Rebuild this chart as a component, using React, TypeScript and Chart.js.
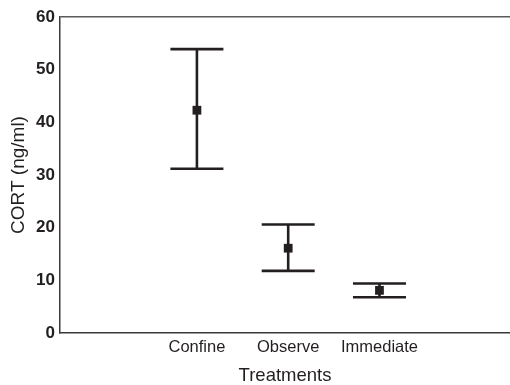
import React, { useEffect, useRef } from "react";
import { Chart, registerables } from "chart.js";

Chart.register(...registerables);

const categories = ["Confine", "Observe", "Immediate"];
const categoryPositions = [1.5, 2.5, 3.5];
const means = [42.3, 16.1, 8.1];
const upper = [53.9, 20.6, 9.4];
const lower = [31.2, 11.8, 6.8];
const yTicks = [0, 10, 20, 30, 40, 50, 60];

const INK = "#231f20";
const FONT = "'Liberation Sans', Arial, Helvetica, sans-serif";

const errorBarPlugin = {
  id: "errorBars",
  beforeDatasetsDraw(chart: any) {
    const { ctx, scales } = chart;
    const xs = scales.x;
    const ys = scales.y;
    const capHalf = 26.5;
    ctx.save();
    ctx.strokeStyle = INK;
    ctx.lineWidth = 2.6;
    ctx.lineCap = "butt";
    categoryPositions.forEach((pos, i) => {
      const x = xs.getPixelForValue(pos);
      const yHi = ys.getPixelForValue(upper[i]);
      const yLo = ys.getPixelForValue(lower[i]);
      ctx.beginPath();
      ctx.moveTo(x, yHi);
      ctx.lineTo(x, yLo);
      ctx.moveTo(x - capHalf, yHi);
      ctx.lineTo(x + capHalf, yHi);
      ctx.moveTo(x - capHalf, yLo);
      ctx.lineTo(x + capHalf, yLo);
      ctx.stroke();
    });
    ctx.restore();
  },
};

export default function App() {
  const ref = useRef<HTMLCanvasElement | null>(null);

  useEffect(() => {
    if (!ref.current) return;
    const chart = new Chart(ref.current, {
      type: "scatter",
      data: {
        datasets: [
          {
            data: categoryPositions.map((p, i) => ({ x: p, y: means[i] })),
            pointStyle: "rect",
            pointRadius: 6.2,
            pointBackgroundColor: INK,
            pointBorderColor: INK,
            pointBorderWidth: 0,
          },
        ],
      },
      options: {
        animation: false,
        responsive: false,
        maintainAspectRatio: false,
        layout: { autoPadding: false, padding: { top: 17, right: 0, bottom: 0, left: 0 } },
        plugins: {
          legend: { display: false },
          tooltip: { enabled: false },
        },
        scales: {
          x: {
            type: "linear",
            min: 0,
            max: 4.93,
            afterBuildTicks: (scale: any) => {
              scale.ticks = categoryPositions.map((v) => ({ value: v }));
            },
            afterFit: (scale: any) => {
              scale.height = 52;
              scale.paddingLeft = 0;
              scale.paddingRight = 0;
            },
            grid: { display: false, drawTicks: false },
            border: { display: true, color: "#3a3a3a", width: 1.5 },
            ticks: {
              padding: 5,
              color: INK,
              font: { family: FONT, size: 16.5 },
              callback: (v: any) => {
                const idx = categoryPositions.indexOf(Number(v));
                return idx >= 0 ? categories[idx] : "";
              },
            },
            title: {
              display: true,
              text: "Treatments",
              color: INK,
              font: { family: FONT, size: 18.5, lineHeight: 1 },
              padding: { top: 0, bottom: 0 },
            },
          },
          y: {
            type: "linear",
            min: 0,
            max: 60,
            afterBuildTicks: (scale: any) => {
              scale.ticks = yTicks.map((v) => ({ value: v }));
            },
            afterFit: (scale: any) => {
              scale.width = 60;
            },
            grid: {
              drawTicks: false,
              lineWidth: 1.5,
              color: (c: any) => (c.tick && c.tick.value === 60 ? "#5a5a5a" : "rgba(0,0,0,0)"),
            },
            border: { display: true, color: "#3a3a3a", width: 1.5 },
            ticks: {
              padding: 5,
              color: INK,
              font: { family: FONT, size: 17, weight: "bold" },
            },
            title: {
              display: true,
              text: "CORT (ng/ml)",
              color: INK,
              font: { family: FONT, size: 19, lineHeight: 1.2 },
              padding: { top: 7, bottom: 0 },
            },
          },
        },
      },
      plugins: [errorBarPlugin],
    } as any);
    return () => chart.destroy();
  }, []);

  return (
    <div style={{ position: "absolute", left: 0, top: 0, width: 510, height: 385, background: "#fff" }}>
      <canvas ref={ref} width={510} height={385} style={{ width: 510, height: 385, display: "block" }} />
    </div>
  );
}
